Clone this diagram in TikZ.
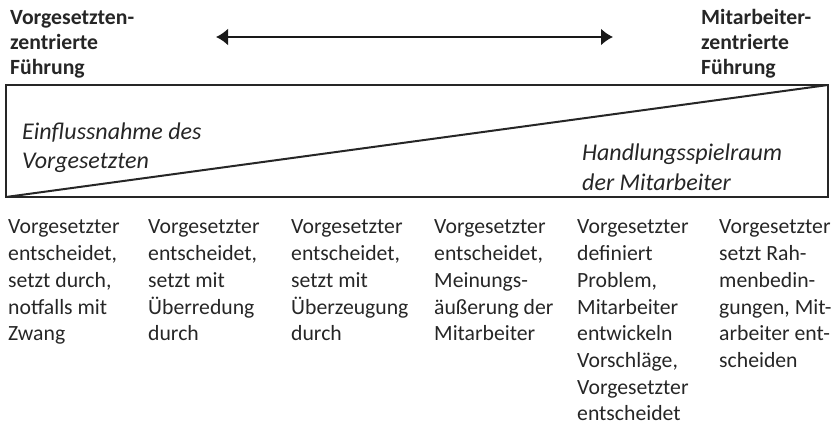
\documentclass[tikz,border=0pt]{standalone}
\usepackage{fontspec}
\setmainfont{Carlito}
\usetikzlibrary{arrows.meta}
% left-aligned stack whose reference point is the first baseline
\newcommand\colstack[1]{\begin{tabular}[t]{@{}l@{}}#1\end{tabular}}
\begin{document}
\begin{tikzpicture}[x=1pt,y=-1pt,
  lbl/.style={inner sep=0pt,anchor=base west,text=black!85},
  head/.style={lbl,font=\fontsize{21.7}{24.7}\selectfont\bfseries},
  zone/.style={lbl,font=\fontsize{24}{29.5}\selectfont\itshape},
  col/.style={lbl,font=\fontsize{21.7}{26.7}\selectfont},
  frame/.style={line width=2pt,draw=black!85},
  scale arrow/.style={line width=2pt,draw=black!90,{Latex[length=12pt,width=17pt]}-{Latex[length=12pt,width=17pt]}}]
\useasboundingbox (0,0) rectangle (832,427);

% direction of the leadership continuum
\coordinate (al) at (216,37);
\coordinate (ar) at (613,37);
\draw[scale arrow] (al) -- (ar);

% end-point headings
\node[head] (lhead) at (10,25) {\colstack{Vorgesetzten-\\zentrierte\\Führung}};
\node[head] (rhead) at (701,25) {\colstack{Mitarbeiter-\\zentrierte\\Führung}};

% split box
\coordinate (bl) at (6,197);
\coordinate (tr) at (828,85);
\draw[frame] (bl) rectangle (tr);
\draw[frame] (bl) -- (tr);

\node[zone] (infl) at (22,139.5) {\colstack{Einflussnahme des\\Vorgesetzten}};
\node[zone] (spiel) at (582,161) {\colstack{Handlungsspielraum\\der Mitarbeiter}};

% leadership styles
\node[col] (s1) at (8,234) {\colstack{Vorgesetzter\\entscheidet,\\setzt durch,\\notfalls mit\\Zwang}};
\node[col] (s2) at (148,234) {\colstack{Vorgesetzter\\entscheidet,\\setzt mit\\Überredung\\durch}};
\node[col] (s3) at (291,234) {\colstack{Vorgesetzter\\entscheidet,\\setzt mit\\Überzeugung\\durch}};
\node[col] (s4) at (434,234) {\colstack{Vorgesetzter\\entscheidet,\\Meinungs-\\äußerung der\\Mitarbeiter}};
\node[col] (s5) at (577,234) {\colstack{Vorgesetzter\\definiert\\Problem,\\Mitarbeiter\\entwickeln\\Vorschläge,\\Vorgesetzter\\entscheidet}};
\node[col] (s6) at (719,234) {\colstack{Vorgesetzter\\setzt Rah-\\menbedin-\\gungen, Mit-\\arbeiter ent-\\scheiden}};
\end{tikzpicture}
\end{document}
